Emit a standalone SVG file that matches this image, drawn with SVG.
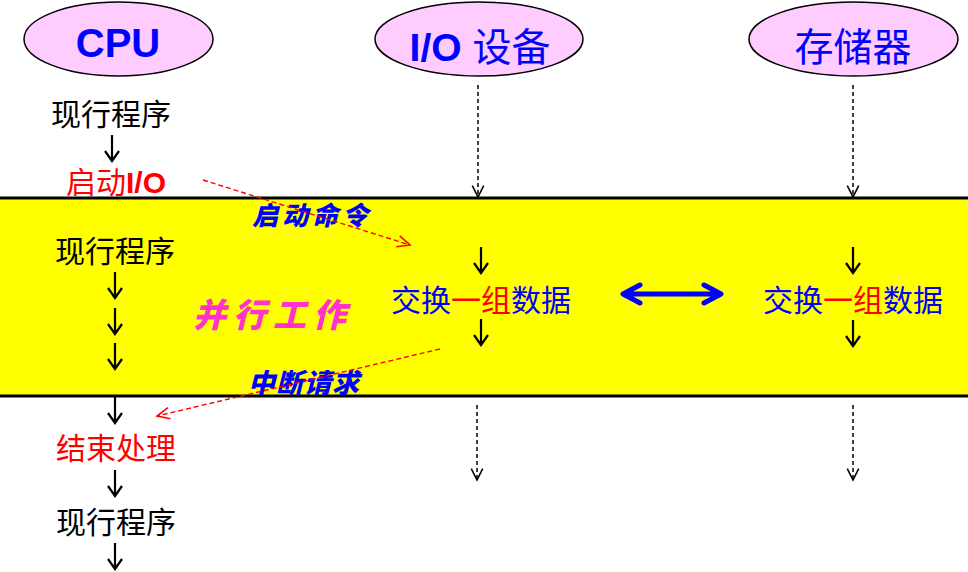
<svg xmlns="http://www.w3.org/2000/svg" width="968" height="572" viewBox="0 0 968 572">
<style>
.ell{fill:#FFCCFF;stroke:#000;stroke-width:1.5}
.cjk{font-family:"Noto Sans CJK SC","Liberation Sans",sans-serif}
.lat{font-family:"Liberation Sans","Noto Sans CJK SC",sans-serif;font-weight:bold}
.blk{fill:#000}
.red{fill:#FF0000}
.blu{fill:#0000FF}
.cal{font-family:"Noto Sans CJK SC",sans-serif;font-weight:900;font-style:italic}
.dn{fill:none;stroke:#000;stroke-width:2.2}
.dash{fill:none;stroke:#000;stroke-width:1.5;stroke-dasharray:4,3}
.rdash{fill:none;stroke:#FF0000;stroke-width:1.4;stroke-dasharray:5,3}
</style>
<defs>
<marker id="openBlack" markerUnits="userSpaceOnUse" markerWidth="16" markerHeight="16" refX="12" refY="6" orient="auto" viewBox="0 0 14 12">
<path d="M2,1 L12,6 L2,11" fill="none" stroke="#000" stroke-width="1.4"/>
</marker>
<marker id="openRed" markerUnits="userSpaceOnUse" markerWidth="16" markerHeight="16" refX="12" refY="6" orient="auto" viewBox="0 0 14 12">
<path d="M1,1 L12,6 L1,11" fill="none" stroke="#FF0000" stroke-width="1.4"/>
</marker>
</defs>
<rect x="0" y="0" width="968" height="572" fill="#fff"/>
<g id="band">
<rect x="0" y="198" width="968" height="198" fill="#FFFF00"/>
<line x1="0" y1="198" x2="968" y2="198" stroke="#000" stroke-width="3"/>
<line x1="0" y1="396" x2="968" y2="396" stroke="#000" stroke-width="3"/>
</g>
<g id="cpu">
<ellipse class="ell" cx="118.5" cy="39" rx="94.5" ry="37"/>
<text class="lat blu" x="118" y="57" font-size="40" text-anchor="middle">CPU</text>
</g>
<g id="io">
<ellipse class="ell" cx="479" cy="39" rx="104" ry="37"/>
<text x="480" y="61" font-size="39" text-anchor="middle" class="blu"><tspan class="lat">I/O </tspan><tspan class="cjk">设备</tspan></text>
</g>
<g id="mem">
<ellipse class="ell" cx="853.5" cy="39" rx="104.5" ry="37"/>
<text class="cjk blu" x="853" y="61" font-size="39" text-anchor="middle">存储器</text>
</g>
<g id="cpu-steps">
<text class="cjk blk" x="111" y="125" font-size="30" text-anchor="middle">现行程序</text>
<text x="116" y="193" font-size="30" text-anchor="middle" class="red"><tspan class="cjk">启动</tspan><tspan class="lat">I/O</tspan></text>
<text class="cjk blk" x="115" y="262" font-size="30" text-anchor="middle">现行程序</text>
<text class="cjk red" x="116" y="459" font-size="30" text-anchor="middle">结束处理</text>
<text class="cjk blk" x="116" y="533" font-size="30" text-anchor="middle">现行程序</text>
</g>
<g id="parallel">
<text class="cal" x="193" y="327" font-size="33" letter-spacing="7" fill="#FF33CC">并行工作</text>
</g>
<g id="io-exchange">
<text class="cjk" x="481" y="311" font-size="30" text-anchor="middle"><tspan class="blu">交换</tspan><tspan class="red">一组</tspan><tspan class="blu">数据</tspan></text>
</g>
<g id="mem-exchange">
<text class="cjk" x="853" y="311" font-size="30" text-anchor="middle"><tspan class="blu">交换</tspan><tspan class="red">一组</tspan><tspan class="blu">数据</tspan></text>
</g>
<g id="labels">
<text class="cal blu" x="252" y="225" font-size="26" letter-spacing="4">启动命令</text>
<text class="cal blu" x="248" y="393" font-size="27" letter-spacing="1">中断请求</text>
</g>
<g id="connectors">
<path class="dn" d="M112,135 V161 M105,151 L112,161 L119,151"/>
<path class="dn" d="M115,272 V298 M108,288 L115,298 L122,288"/>
<path class="dn" d="M115,308 V334 M108,324 L115,334 L122,324"/>
<path class="dn" d="M115,343 V369 M108,359 L115,369 L122,359"/>
<path class="dn" d="M115,397 V423 M108,413 L115,423 L122,413"/>
<path class="dn" d="M115,470 V496 M108,486 L115,496 L122,486"/>
<path class="dn" d="M115,543 V569 M108,559 L115,569 L122,559"/>
<path class="dn" d="M481,247 V273 M474,263 L481,273 L488,263"/>
<path class="dn" d="M481,319 V345 M474,335 L481,345 L488,335"/>
<path class="dn" d="M853,247 V273 M846,263 L853,273 L860,263"/>
<path class="dn" d="M853,320 V346 M846,336 L853,346 L860,336"/>
<line class="dash" x1="478" y1="85" x2="478" y2="197" marker-end="url(#openBlack)"/>
<line class="dash" x1="853" y1="85" x2="853" y2="197" marker-end="url(#openBlack)"/>
<line class="dash" x1="477" y1="405" x2="477" y2="480" marker-end="url(#openBlack)"/>
<line class="dash" x1="853" y1="405" x2="853" y2="480" marker-end="url(#openBlack)"/>
<line class="rdash" x1="203" y1="180" x2="410" y2="245" marker-end="url(#openRed)"/>
<line class="rdash" x1="440" y1="349" x2="157" y2="416" marker-end="url(#openRed)"/>
<path d="M624,294 H720 M640,285 L623,294 L640,303 M704,285 L721,294 L704,303" fill="none" stroke="#0000FF" stroke-width="5" stroke-linecap="round" stroke-linejoin="round"/>
</g>
</svg>
